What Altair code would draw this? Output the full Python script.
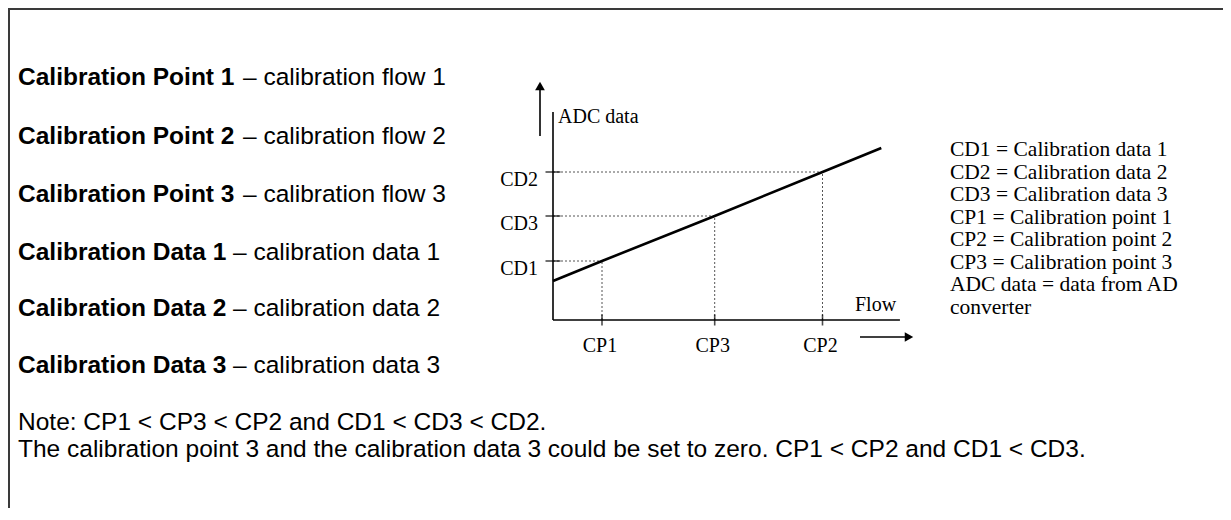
import altair as alt
import pandas as pd

# ---------------- data ----------------
cp_names = ["CP1", "CP3", "CP2"]
cp_flow = [1.0, 3.3, 5.5]
cd_names = ["CD1", "CD3", "CD2"]
cd_adc = [5.9, 10.4, 14.8]
line_flow = [0.0, 1.0, 3.3, 5.5, 6.7]
line_adc = [3.9, 5.9, 10.4, 14.8, 17.2]

left_bold = ["Calibration Point 1", "Calibration Point 2", "Calibration Point 3",
             "Calibration Data 1", "Calibration Data 2", "Calibration Data 3"]
left_plain = ["– calibration flow 1", "– calibration flow 2", "– calibration flow 3",
              "– calibration data 1", "– calibration data 2", "– calibration data 3"]
right_lines = ["CD1 = Calibration data 1", "CD2 = Calibration data 2",
               "CD3 = Calibration data 3", "CP1 = Calibration point 1",
               "CP2 = Calibration point 2", "CP3 = Calibration point 3",
               "ADC data = data from AD", "converter"]
note_lines = ["Note: CP1 < CP3 < CP2 and CD1 < CD3 < CD2.",
              "The calibration point 3 and the calibration data 3 could be set to zero. CP1 < CP2 and CD1 < CD3."]
y_title = "ADC data"
x_title = "Flow"

# ---------------- layout ----------------
W, H = 1215, 500
X0, PPF = 545, 49.0     # pixel of flow 0, pixels per flow unit
Y0, PPA = 312, 10.0     # pixel of ADC 0, pixels per ADC unit
x_axis_end = 7.08
y_axis_top = 20.8

xs = alt.Scale(domain=[-X0 / PPF, (W - X0) / PPF], nice=False, zero=False)
ys = alt.Scale(domain=[-(H - Y0) / PPA, Y0 / PPA], nice=False, zero=False)

SANS = "Liberation Sans"
SERIF = "Liberation Serif"
one = pd.DataFrame({"k": [0]})

layers = []

# frame
layers.append(alt.Chart(one).mark_rule(color="#3a3a3a", strokeWidth=2).encode(
    x=alt.value(0), x2=alt.value(W), y=alt.value(1)))
layers.append(alt.Chart(one).mark_rule(color="#3a3a3a", strokeWidth=2).encode(
    x=alt.value(1), y=alt.value(0), y2=alt.value(H)))

pairs = pd.DataFrame({"cp": cp_names, "flow": cp_flow, "cd": cd_names, "adc": cd_adc})
pairs["zero"] = 0.0

# dotted guides
layers.append(alt.Chart(pairs).mark_rule(color="#555555", strokeWidth=1, strokeDash=[2, 2]).encode(
    x=alt.X("zero:Q", scale=xs, axis=None), x2="flow",
    y=alt.Y("adc:Q", scale=ys, axis=None)))
layers.append(alt.Chart(pairs).mark_rule(color="#555555", strokeWidth=1, strokeDash=[2, 2]).encode(
    x=alt.X("flow:Q", scale=xs, axis=None),
    y=alt.Y("zero:Q", scale=ys, axis=None), y2="adc"))

# axes
axes = pd.DataFrame({"x": [0.0, 0.0], "x2": [x_axis_end, 0.0], "y": [0.0, 0.0], "y2": [0.0, y_axis_top]})
layers.append(alt.Chart(axes).mark_rule(color="black", strokeWidth=1.6).encode(
    x=alt.X("x:Q", scale=xs, axis=None), x2="x2",
    y=alt.Y("y:Q", scale=ys, axis=None), y2="y2"))

# ticks
layers.append(alt.Chart(pairs).mark_tick(orient="horizontal", size=15, thickness=1.6, color="black").encode(
    x=alt.X("zero:Q", scale=xs, axis=None), y=alt.Y("adc:Q", scale=ys, axis=None)))
layers.append(alt.Chart(pairs).mark_tick(orient="vertical", size=11, thickness=1.6, color="black").encode(
    x=alt.X("flow:Q", scale=xs, axis=None), y=alt.Y("zero:Q", scale=ys, axis=None)))

# calibration line
df_line = pd.DataFrame({"flow": line_flow, "adc": line_adc})
layers.append(alt.Chart(df_line).mark_line(color="black", strokeWidth=2.6).encode(
    x=alt.X("flow:Q", scale=xs, axis=None), y=alt.Y("adc:Q", scale=ys, axis=None)))

# tick labels
layers.append(alt.Chart(pairs).mark_text(font=SERIF, fontSize=20, align="right", baseline="middle",
                                         dx=-15, dy=8, color="black").encode(
    x=alt.X("zero:Q", scale=xs, axis=None), y=alt.Y("adc:Q", scale=ys, axis=None), text="cd:N"))
layers.append(alt.Chart(pairs).mark_text(font=SERIF, fontSize=20, align="center", baseline="middle",
                                         dx=-2, color="black").encode(
    x=alt.X("flow:Q", scale=xs, axis=None), y=alt.value(338), text="cp:N"))

# axis titles
layers.append(alt.Chart(one).mark_text(font=SERIF, fontSize=20, align="left", baseline="middle",
                                       color="black", text=y_title).encode(
    x=alt.value(550), y=alt.value(109)))
layers.append(alt.Chart(one).mark_text(font=SERIF, fontSize=20, align="left", baseline="middle",
                                       color="black", text=x_title).encode(
    x=alt.value(847), y=alt.value(297)))

# arrows
layers.append(alt.Chart(one).mark_rule(color="black", strokeWidth=1.6).encode(
    x=alt.value(532), y=alt.value(128), y2=alt.value(80)))
layers.append(alt.Chart(one).mark_point(shape="triangle-up", filled=True, size=95, color="black", opacity=1).encode(
    x=alt.value(532), y=alt.value(78)))
layers.append(alt.Chart(one).mark_rule(color="black", strokeWidth=1.6).encode(
    x=alt.value(852), x2=alt.value(898), y=alt.value(329)))
layers.append(alt.Chart(one).mark_point(shape="triangle-right", filled=True, size=95, color="black", opacity=1).encode(
    x=alt.value(901), y=alt.value(329)))

# left text block
row_y = [70, 129, 187, 245, 301, 358]
plain_x = [235, 235, 235, 225, 225, 225]
for i in range(6):
    d = pd.DataFrame({"b": [left_bold[i]], "p": [left_plain[i]]})
    layers.append(alt.Chart(d).mark_text(font=SANS, fontSize=24.5, fontWeight="bold", align="left",
                                         baseline="middle", color="black").encode(
        x=alt.value(10), y=alt.value(row_y[i]), text="b:N"))
    layers.append(alt.Chart(d).mark_text(font=SANS, fontSize=24.5, align="left",
                                         baseline="middle", color="black").encode(
        x=alt.value(plain_x[i]), y=alt.value(row_y[i]), text="p:N"))

# right legend text
for i, s in enumerate(right_lines):
    d = pd.DataFrame({"t": [s]})
    layers.append(alt.Chart(d).mark_text(font=SERIF, fontSize=21.5, align="left",
                                         baseline="middle", color="black").encode(
        x=alt.value(942), y=alt.value(142 + 22.5 * i), text="t:N"))

# note
for i, s in enumerate(note_lines):
    d = pd.DataFrame({"t": [s]})
    layers.append(alt.Chart(d).mark_text(font=SANS, fontSize=24.5, align="left",
                                         baseline="middle", color="black").encode(
        x=alt.value(10), y=alt.value(415 + 27 * i), text="t:N"))

chart = alt.layer(*layers).properties(
    width=W, height=H, padding=0, autosize="none", background="white"
).configure_view(stroke=None)

chart.save("out.html", embed_options={"renderer": "svg", "actions": False})
